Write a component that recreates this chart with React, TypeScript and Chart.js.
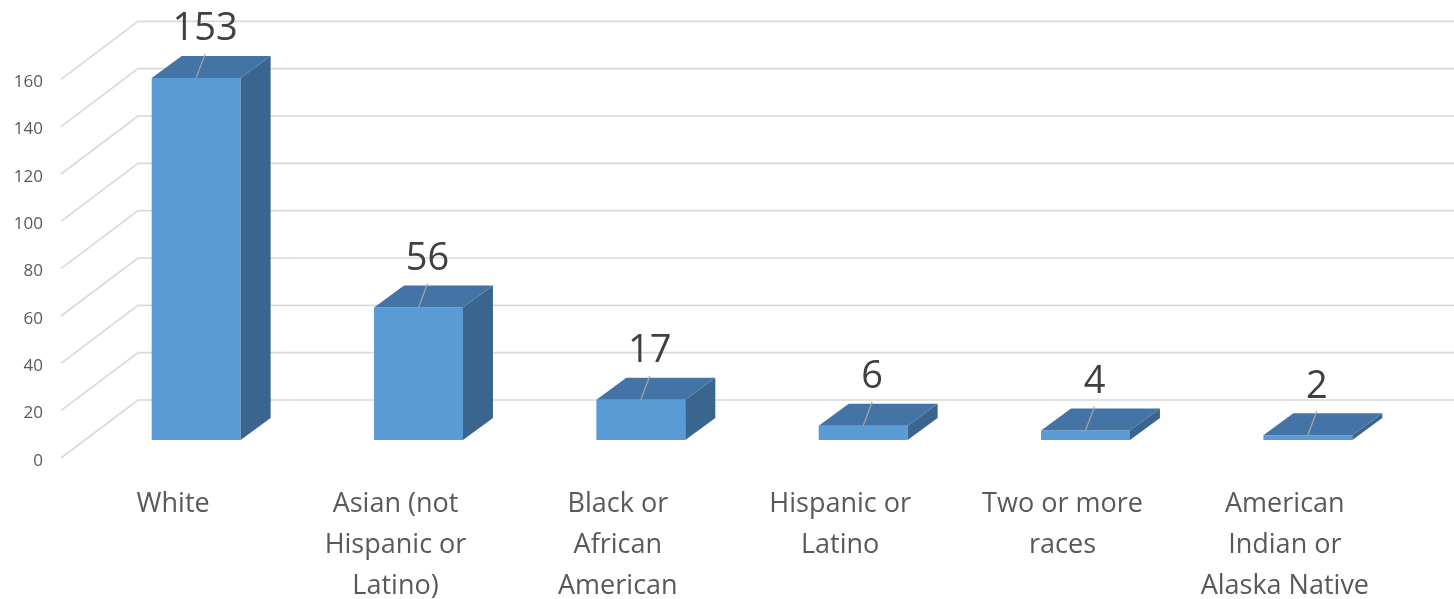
import React, { useEffect, useRef } from "react";
import { Chart, registerables } from "chart.js";

Chart.register(...registerables);

// Category labels (one entry per line of text)
const categories: string[][] = [
  ["White"],
  ["Asian (not", "Hispanic or", "Latino)"],
  ["Black or", "African", "American"],
  ["Hispanic or", "Latino"],
  ["Two or more", "races"],
  ["American", "Indian or", "Alaska Native"],
];

// Headcount per category
const counts: number[] = [153, 56, 17, 6, 4, 2];

// Value-axis labels shown on the left wall
const tickLabels: string[] = ["0", "20", "40", "60", "80", "100", "120", "140", "160"];

const FONT = "'Open Sans', 'DejaVu Sans', sans-serif";
const FRONT = "#5B9BD5";
const TOP = "#4474A5";
const SIDE = "#3A658F";
const GRID = "#D9D9D9";

// Pseudo-3D depth of the bars and the wall
const DEPTH_X = 30;
const DEPTH_Y = -22;
const WALL_FRONT_X = 61;
const WALL_BACK_X = 138;
const FRONT_SHIFT = 18; // floor front edge below the bar base
const WALL_RISE = 58; // how far the wall lines climb from front to back

const wallPlugin = {
  id: "wall3d",
  beforeDatasetsDraw(chart: any) {
    const { ctx, scales, width } = chart;
    const y = scales.y;
    ctx.save();
    ctx.strokeStyle = GRID;
    ctx.lineWidth = 1.6;
    tickLabels.forEach((lab) => {
      const fy = y.getPixelForValue(Number(lab)) + FRONT_SHIFT;
      const by = fy - WALL_RISE;
      ctx.beginPath();
      ctx.moveTo(WALL_FRONT_X, fy);
      ctx.lineTo(WALL_BACK_X, by);
      ctx.lineTo(width, by);
      ctx.stroke();
    });
    // value labels on the left
    ctx.fillStyle = "#595959";
    ctx.font = `17px ${FONT}`;
    ctx.textAlign = "right";
    ctx.textBaseline = "alphabetic";
    tickLabels.forEach((lab) => {
      const fy = y.getPixelForValue(Number(lab)) + FRONT_SHIFT;
      ctx.fillText(lab, 43, fy + 7.5);
    });
    ctx.restore();
  },
  afterDatasetsDraw(chart: any) {
    const { ctx } = chart;
    const meta = chart.getDatasetMeta(0);
    ctx.save();
    meta.data.forEach((bar: any, i: number) => {
      const { x, y, base, width } = bar.getProps(["x", "y", "base", "width"], true);
      const l = x - width / 2;
      const r = x + width / 2;
      // side face
      ctx.fillStyle = SIDE;
      ctx.beginPath();
      ctx.moveTo(r, y);
      ctx.lineTo(r + DEPTH_X, y + DEPTH_Y);
      ctx.lineTo(r + DEPTH_X, base + DEPTH_Y);
      ctx.lineTo(r, base);
      ctx.closePath();
      ctx.fill();
      // top face
      ctx.fillStyle = TOP;
      ctx.beginPath();
      ctx.moveTo(l, y);
      ctx.lineTo(l + DEPTH_X, y + DEPTH_Y);
      ctx.lineTo(r + DEPTH_X, y + DEPTH_Y);
      ctx.lineTo(r, y);
      ctx.closePath();
      ctx.fill();

      // value label with leader line
      const lx = x + 9;
      const ly = y - 52;
      ctx.strokeStyle = "#A6A6A6";
      ctx.lineWidth = 1.2;
      ctx.beginPath();
      ctx.moveTo(lx, ly + 28);
      ctx.lineTo(x, y);
      ctx.stroke();
      ctx.fillStyle = "#404040";
      ctx.font = `38px ${FONT}`;
      ctx.textAlign = "center";
      ctx.textBaseline = "alphabetic";
      ctx.fillText(String(counts[i]), lx, ly + 14.5);

      // category label
      ctx.fillStyle = "#595959";
      ctx.font = `27px ${FONT}`;
      categories[i].forEach((line, k) => {
        ctx.fillText(line, x - 23, 512 + k * 41);
      });
    });
    ctx.restore();
  },
};

export default function App() {
  const ref = useRef<HTMLCanvasElement | null>(null);

  useEffect(() => {
    if (!ref.current) return;
    const chart = new Chart(ref.current, {
      type: "bar",
      data: {
        labels: categories.map((c) => c.join(" ")),
        datasets: [
          {
            data: counts,
            backgroundColor: FRONT,
            borderWidth: 0,
            barPercentage: 0.4,
            categoryPercentage: 1,
          },
        ],
      },
      options: {
        animation: false,
        responsive: true,
        maintainAspectRatio: false,
        layout: { padding: { left: 85, right: 35, top: 14, bottom: 159 } },
        plugins: { legend: { display: false }, tooltip: { enabled: false } },
        scales: {
          x: { display: false },
          y: { display: false, min: 0, max: 180 },
        },
      },
      plugins: [wallPlugin],
    });
    return () => chart.destroy();
  }, []);

  return (
    <div
      style={{
        position: "fixed",
        left: 0,
        top: 0,
        width: 1454,
        height: 599,
        background: "#ffffff",
      }}
    >
      <canvas ref={ref} />
    </div>
  );
}
